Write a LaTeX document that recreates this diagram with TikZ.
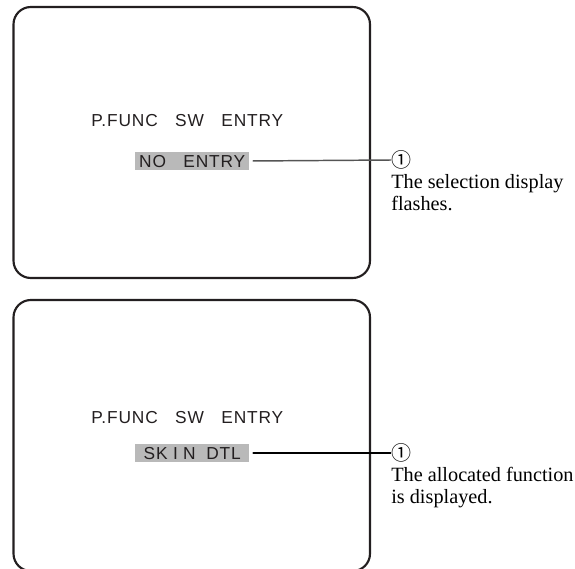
\documentclass[tikz,border=0pt]{standalone}
\usepackage{fontspec}
\setmainfont{Liberation Serif}
\newfontfamily\lcdfont[LetterSpace=5]{Liberation Sans}
\newfontfamily\numfont{Noto Sans CJK JP}
\usetikzlibrary{arrows.meta,positioning}
\definecolor{selgray}{HTML}{B9B9B9}
\definecolor{lcdink}{HTML}{231F20}
\definecolor{leadgray}{HTML}{555555}

\begin{document}
\begin{tikzpicture}[
  x=0.75pt, y=-0.75pt,
  screen/.style={draw=lcdink, line width=1.6pt, rounded corners=13pt},
  lcd/.style={font=\lcdfont\fontsize{13}{13}\selectfont, text=lcdink, inner sep=0pt, anchor=base west},
  sel/.style={fill=selgray, text=lcdink, font=\lcdfont\fontsize{13}{13}\selectfont, inner xsep=1.5pt, inner ysep=0pt, minimum width=85.5pt, minimum height=13.5pt, text height=9.4pt, text depth=0pt, anchor=west},
  lead/.style={line width=1.1pt, {Circle[white,length=2.4pt]}-},
  callnum/.style={font=\numfont\fontsize{15}{15}\selectfont, inner sep=0pt, anchor=west},
  note/.style={font=\fontsize{15.2}{16.5}\selectfont, align=left, inner sep=0pt, anchor=north west}
]
\useasboundingbox (0,0) rectangle (575,568);
\clip (0,0) rectangle (575,568);

% upper screen
\draw[screen] (13.5,7) rectangle (370,278);
\node[lcd] (title1) at (91,126) {P.FUNC\quad SW\quad ENTRY};
\node[sel] (sel1) at (135,161) {NO\quad ENTRY};
\node[callnum] (num1) at (391,160) {①};
\node[note, below=3.5pt of num1.south west, anchor=north west] (txt1) {The selection display\\flashes.};
\draw[lead, draw=leadgray] (sel1.east) -- (num1.west);

% lower screen
\draw[screen] (13.5,300) rectangle (370,571);
\node[lcd] (title2) at (91,423) {P.FUNC\quad SW\quad ENTRY};
\node[sel] (sel2) at (135,453) {SK\hspace{4pt}I\hspace{4pt}N\hspace{8pt}DTL};
\node[callnum] (num2) at (391,453) {①};
\node[note, below=3.5pt of num2.south west, anchor=north west] (txt2) {The allocated function\\is displayed.};
\draw[lead, draw=black] (sel2.east) -- (num2.west);

\end{tikzpicture}
\end{document}
